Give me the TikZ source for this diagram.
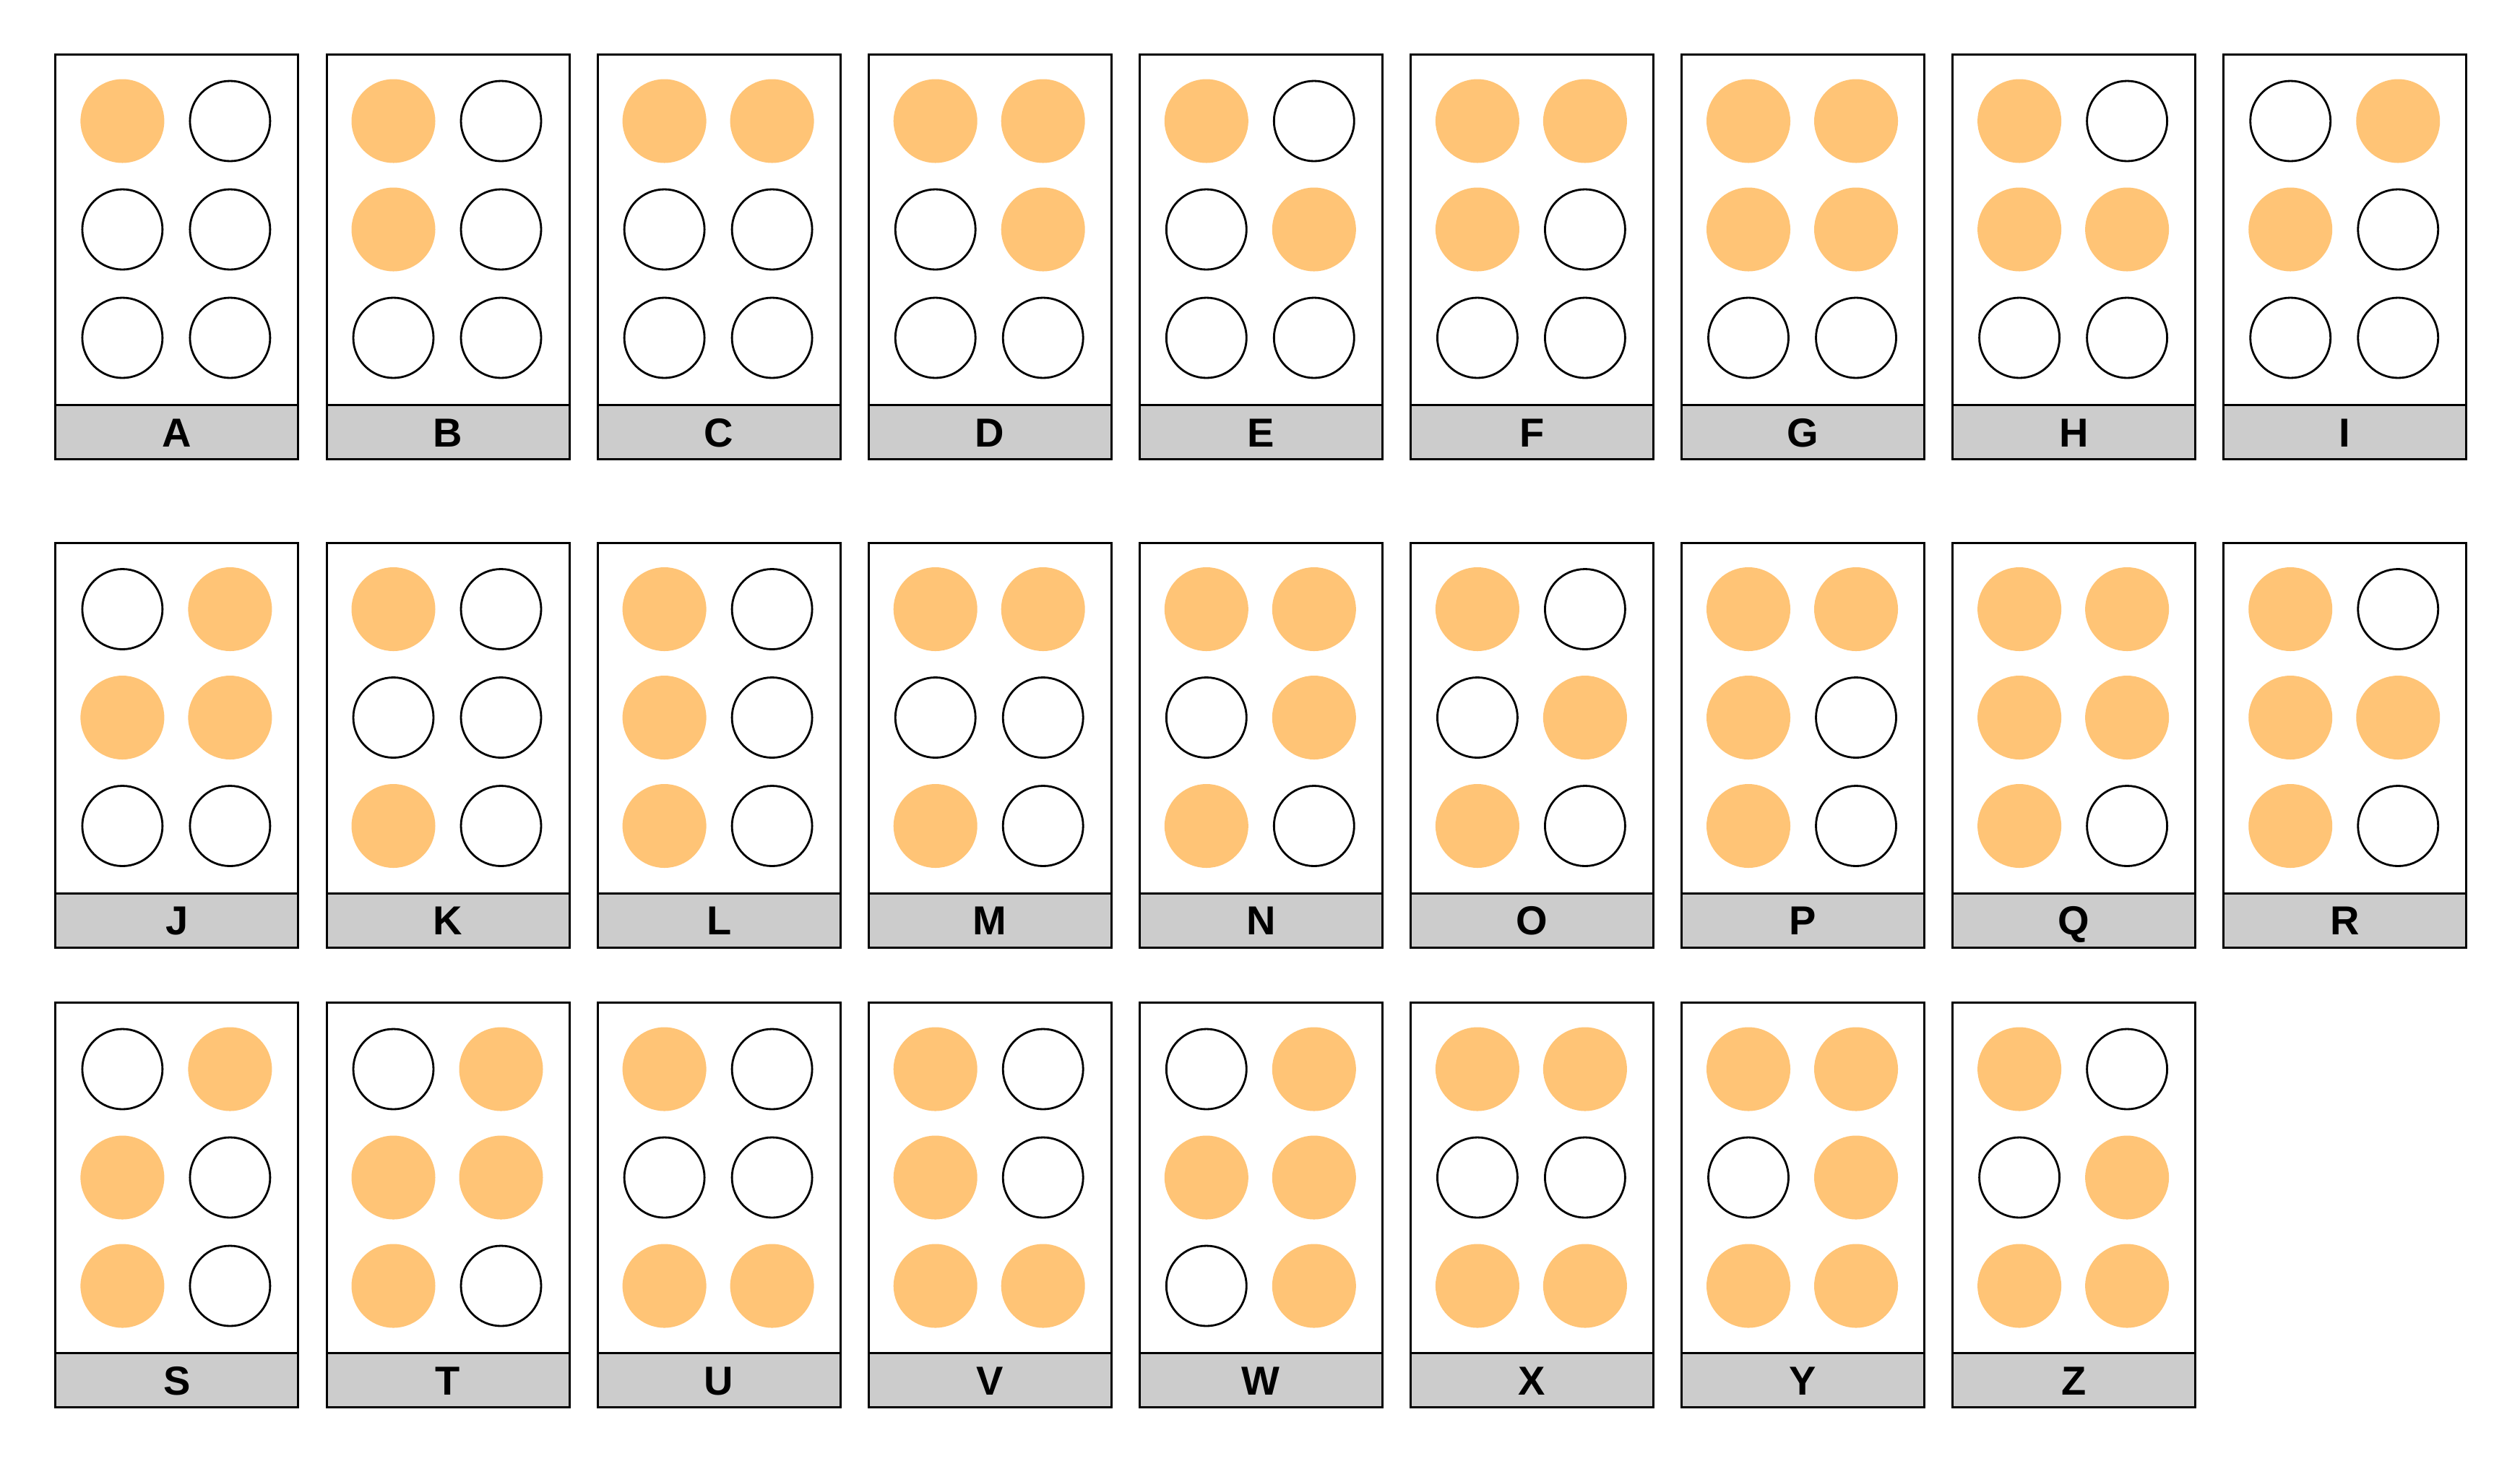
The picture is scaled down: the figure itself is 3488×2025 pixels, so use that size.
\documentclass[tikz,border=0pt]{standalone}
\usepackage{fontspec}
\setmainfont{Liberation Sans}
\definecolor{dotfill}{RGB}{255,196,118}
\definecolor{barfill}{RGB}{204,204,204}
\begin{document}
\begin{tikzpicture}[x=0.3pt,y=-0.3pt,
  cardbody/.style={draw=black, line width=0.9pt, fill=white, rectangle, anchor=north west, inner sep=0pt, outer sep=0pt, minimum width=100.8pt, minimum height=145.5pt},
  cardbar/.style={draw=black, line width=0.9pt, fill=barfill, rectangle, anchor=north west, inner sep=0pt, outer sep=0pt, minimum width=100.8pt, minimum height=22.5pt},
  cardlabel/.style={font=\bfseries\fontsize{16.8pt}{18pt}\selectfont, text height=12pt, text depth=0pt, inner sep=0pt},
  dotoff/.style={circle, draw=black, line width=0.85pt, fill=white, minimum size=33.3pt, inner sep=0pt},
  doton/.style={circle, fill=dotfill, minimum size=34.8pt, inner sep=0pt},
]
\useasboundingbox[fill=white] (0,0) rectangle (3488,2025);
\foreach \letter/\pat [count=\i from 0] in {
 A/{1,0,0,0,0,0}, B/{1,1,0,0,0,0}, C/{1,0,0,1,0,0}, D/{1,0,0,1,1,0}, E/{1,0,0,0,1,0}, F/{1,1,0,1,0,0}, G/{1,1,0,1,1,0}, H/{1,1,0,0,1,0}, I/{0,1,0,1,0,0},
 J/{0,1,0,1,1,0}, K/{1,0,1,0,0,0}, L/{1,1,1,0,0,0}, M/{1,0,1,1,0,0}, N/{1,0,1,1,1,0}, O/{1,0,1,0,1,0}, P/{1,1,1,1,0,0}, Q/{1,1,1,1,1,0}, R/{1,1,1,0,1,0},
 S/{0,1,1,1,0,0}, T/{0,1,1,1,1,0}, U/{1,0,1,0,0,1}, V/{1,1,1,0,0,1}, W/{0,1,0,1,1,1}, X/{1,0,1,1,0,1}, Y/{1,0,1,1,1,1}, Z/{1,0,1,0,1,1}}
{
  \pgfmathtruncatemacro\col{mod(\i,9)}
  \pgfmathtruncatemacro\rowidx{int(\i/9)}
  \pgfmathsetmacro\tx{76.9+375.1*\col}
  \pgfmathsetmacro\ty{{75.5,751,1387.5}[\rowidx]}
  \node[cardbody] (card-\letter) at (\tx,\ty) {};
  \node[cardbar] (bar-\letter) at (\tx,\ty+485) {};
  \node[cardlabel] (label-\letter) at (bar-\letter.center) {\letter};
  \foreach \st [count=\k] in \pat {
    \pgfmathsetmacro\dx{\k>3 ? 241.5 : 92.5}
    \pgfmathsetmacro\dy{92+150*mod(\k-1,3)}
    \ifnum\st=1 \def\dst{doton}\else\def\dst{dotoff}\fi
    \node[\dst] (dot-\letter-\k) at (\tx+\dx,\ty+\dy) {};
  }
}
\end{tikzpicture}
\end{document}
